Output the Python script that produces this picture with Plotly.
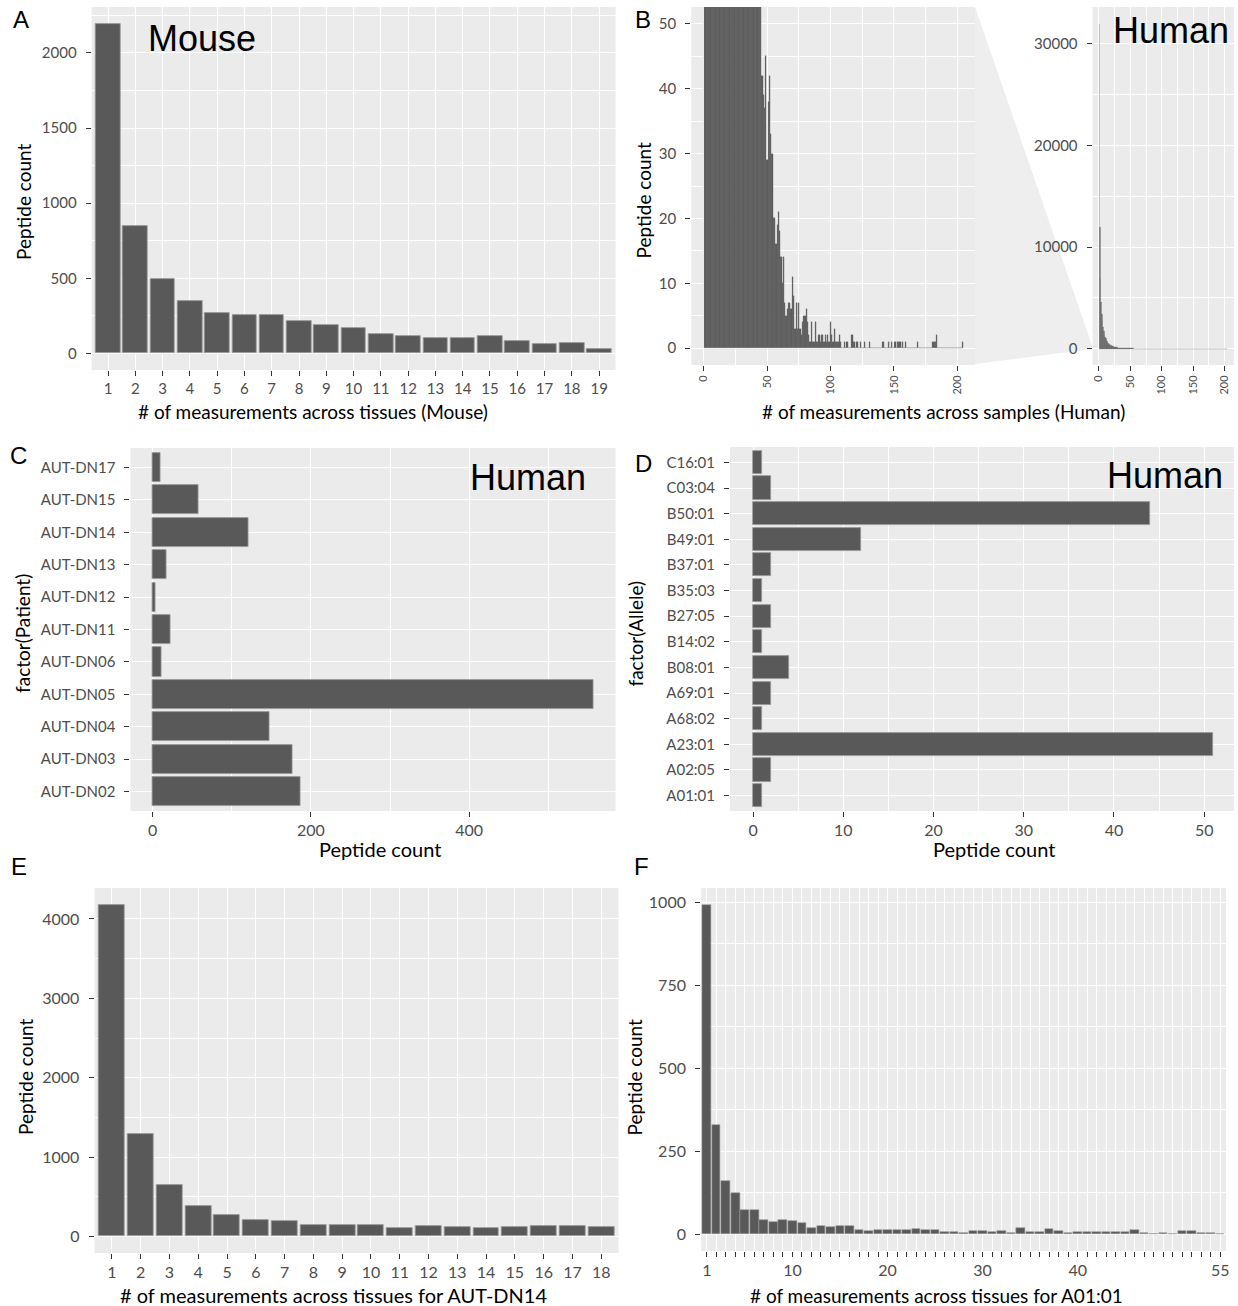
import plotly.graph_objects as go

W, H = 1238, 1306

# ---------------- data ----------------
mouse_x = [1, 2, 3, 4, 5, 6, 7, 8, 9, 10, 11, 12, 13, 14, 15, 16, 17, 18, 19]
mouse_counts = [2195, 848, 496, 350, 268, 259, 259, 217, 188, 168, 128, 117, 106, 100, 117, 80, 64, 69, 33]

human_head = [31900, 12000, 7000, 4600, 3400, 2700, 2150, 1750, 1450, 1200,
              1020, 880, 760, 660, 580, 510, 450, 400, 355, 315,
              285, 255, 230, 208, 188, 170, 155, 142, 130, 120,
              110, 101, 94, 87, 81, 76, 71, 67, 63, 60,
              58, 56, 55, 54, 53]
human_tail = [42, 39, 37, 45, 29, 38, 42, 33, 30, 20,
              20, 16, 19, 21, 18, 14, 10, 14, 7, 5,
              6, 7, 7, 6, 11, 8, 3, 7, 3, 7,
              3, 2, 4, 5, 5, 6, 4, 2, 1, 4,
              1, 1, 4, 1, 1, 2, 1, 2, 2, 1,
              2, 1, 2, 1, 4, 2, 1, 3, 1, 1,
              1, 2, 1, 0, 0, 1, 0, 1, 0, 0,
              0, 2, 1, 1, 0, 1, 0, 0, 1, 0,
              0, 1, 0, 0, 0, 1, 0, 0, 0, 0,
              0, 0, 0, 0, 0, 1, 1, 0, 0, 0,
              1, 0, 1, 0, 0, 1, 0, 1, 1, 1,
              0, 1, 0, 1, 0, 0, 0, 0, 0, 0,
              0, 0, 0, 1, 0, 0, 0, 0, 0, 0,
              0, 0, 0, 0, 0, 1, 1, 1, 2, 0,
              0, 0, 0, 0, 0, 0, 0, 0, 0, 0,
              0, 0, 0, 0, 0, 0, 0, 0, 1]
human_counts = human_head + human_tail
human_x = list(range(1, len(human_counts) + 1))
human_y_ticks = [0, 10000, 20000, 30000]

patients = ['AUT-DN02', 'AUT-DN03', 'AUT-DN04', 'AUT-DN05', 'AUT-DN06', 'AUT-DN11',
            'AUT-DN12', 'AUT-DN13', 'AUT-DN14', 'AUT-DN15', 'AUT-DN17']
patient_counts = [187, 177, 148, 557, 11, 22, 3, 18, 121, 58, 10]

alleles = ['A01:01', 'A02:05', 'A23:01', 'A68:02', 'A69:01', 'B08:01', 'B14:02',
           'B27:05', 'B35:03', 'B37:01', 'B49:01', 'B50:01', 'C03:04', 'C16:01']
allele_counts = [1, 2, 51, 1, 2, 4, 1, 2, 1, 2, 12, 44, 2, 1]

dn14_x = [1, 2, 3, 4, 5, 6, 7, 8, 9, 10, 11, 12, 13, 14, 15, 16, 17, 18]
dn14_counts = [4181, 1288, 644, 383, 274, 206, 198, 139, 139, 147, 109, 126, 114, 105, 122, 126, 131, 118]

a0101_x = list(range(1, 56))
a0101_counts = [992, 330, 160, 125, 73, 72, 43, 37, 44, 40,
                33, 20, 24, 21, 24, 24, 12, 9, 14, 12,
                12, 13, 16, 13, 12, 8, 8, 4, 10, 10,
                8, 11, 5, 18, 8, 8, 16, 10, 5, 7,
                7, 7, 7, 8, 8, 14, 5, 2, 5, 2,
                9, 10, 4, 4, 1]
a0101_labels = ['1', '10', '20', '30', '40', '55']

# ---------------- helpers ----------------
def dx(x0, x1):
    return [x0 / W, x1 / W]

def dy(y0, y1):
    return [1 - y1 / H, 1 - y0 / H]

BAR = '#595959'
EDGE = '#9a9a9a'

def axis(domain, rng, anchor, tickvals=None, ticktext=None, minor_vals=None, size=15, **kw):
    d = dict(domain=domain, range=rng, anchor=anchor, showline=False, zeroline=False,
             ticks='outside', ticklen=5, tickwidth=1.4, tickcolor='#333333',
             tickfont=dict(family='Lato', size=size, color='#4D4D4D'),
             showgrid=True, gridcolor='white', gridwidth=1.4, fixedrange=True)
    if tickvals is not None:
        d['tickmode'] = 'array'
        d['tickvals'] = tickvals
        d['ticktext'] = ticktext if ticktext is not None else [str(v) for v in tickvals]
    if minor_vals is not None:
        d['minor'] = dict(tickmode='array', tickvals=minor_vals, showgrid=True,
                          gridcolor='white', gridwidth=0.6, ticks='')
    d.update(kw)
    return d

fig = go.Figure()

# A: mouse
fig.add_trace(go.Bar(x=mouse_x, y=mouse_counts, width=0.9, xaxis='x', yaxis='y',
                     marker=dict(color=BAR, line=dict(color=EDGE, width=0.8)), showlegend=False))
# B: human zoomed
fig.add_trace(go.Bar(x=human_x, y=human_counts, width=1.0, xaxis='x2', yaxis='y2',
                     marker=dict(color=BAR, line=dict(color='#6f6f6f', width=0.3)), showlegend=False))
# B inset
fig.add_trace(go.Bar(x=human_x, y=human_counts, width=1.0, xaxis='x3', yaxis='y3',
                     marker=dict(color=BAR, line=dict(color='#6f6f6f', width=0.2)), showlegend=False))
# C: patients
fig.add_trace(go.Bar(y=patients, x=patient_counts, orientation='h', width=0.9, xaxis='x4', yaxis='y4',
                     marker=dict(color=BAR, line=dict(color=EDGE, width=0.8)), showlegend=False))
# D: alleles
fig.add_trace(go.Bar(y=alleles, x=allele_counts, orientation='h', width=0.9, xaxis='x5', yaxis='y5',
                     marker=dict(color=BAR, line=dict(color=EDGE, width=0.8)), showlegend=False))
# E: AUT-DN14
fig.add_trace(go.Bar(x=dn14_x, y=dn14_counts, width=0.9, xaxis='x6', yaxis='y6',
                     marker=dict(color=BAR, line=dict(color=EDGE, width=0.8)), showlegend=False))
# F: A01:01
fig.add_trace(go.Bar(x=a0101_x, y=a0101_counts, width=0.9, xaxis='x7', yaxis='y7',
                     marker=dict(color=BAR, line=dict(color=EDGE, width=0.6)), showlegend=False))

f_ticktext = [str(v) if str(v) in a0101_labels else '' for v in a0101_x]
YS = 6  # y tick label standoff

layout = dict(
    width=W, height=H, margin=dict(l=0, r=0, t=0, b=0),
    paper_bgcolor='white', plot_bgcolor='#EBEBEB', bargap=0, barmode='overlay',
    font=dict(family='Lato', color='black'),
    # A
    xaxis=axis(dx(91, 617), [0.4, 19.6], 'y', tickvals=mouse_x),
    yaxis=axis(dy(7, 370), [-110, 2305], 'x', tickvals=[0, 500, 1000, 1500, 2000],
               minor_vals=[250, 750, 1250, 1750, 2250], ticklabelstandoff=YS),
    # B left
    xaxis2=axis(dx(693, 978), [-10, 214], 'y2', tickvals=[0, 50, 100, 150, 200],
                minor_vals=[25, 75, 125, 175], tickangle=-90, size=11),
    yaxis2=axis(dy(7, 365), [-2.6, 52.6], 'x2', tickvals=[0, 10, 20, 30, 40, 50],
                minor_vals=[5, 15, 25, 35, 45], ticklabelstandoff=YS),
    # B inset
    xaxis3=axis(dx(1096, 1238), [-10, 215], 'y3', tickvals=[0, 50, 100, 150, 200],
                minor_vals=[25, 75, 125, 175], tickangle=-90, size=11),
    yaxis3=axis(dy(7, 365), [-1600, 33600], 'x3', tickvals=human_y_ticks,
                minor_vals=[5000, 15000, 25000], ticklabelstandoff=YS),
    # C
    xaxis4=axis(dx(130, 617), [-28, 585], 'y4', tickvals=[0, 200, 400],
                minor_vals=[100, 300, 500], size=16),
    yaxis4=axis(dy(448, 811), [-0.6, len(patients) - 0.4], 'x4', type='category',
                categoryorder='array', categoryarray=patients, ticklabelstandoff=YS),
    # D
    xaxis5=axis(dx(732, 1238), [-2.55, 53.3], 'y5', tickvals=[0, 10, 20, 30, 40, 50],
                minor_vals=[5, 15, 25, 35, 45], size=16),
    yaxis5=axis(dy(447, 811), [-0.6, len(alleles) - 0.4], 'x5', type='category',
                categoryorder='array', categoryarray=alleles, ticklabelstandoff=YS),
    # E
    xaxis6=axis(dx(94, 620), [0.4, 18.6], 'y6', tickvals=dn14_x, size=16),
    yaxis6=axis(dy(888, 1253), [-209, 4390], 'x6', tickvals=[0, 1000, 2000, 3000, 4000],
                minor_vals=[500, 1500, 2500, 3500], size=16, ticklabelstandoff=YS),
    # F
    xaxis7=axis(dx(703, 1230), [0.4, 55.6], 'y7', tickvals=a0101_x, ticktext=f_ticktext, size=16),
    yaxis7=axis(dy(888, 1251), [-50, 1043], 'x7', tickvals=[0, 250, 500, 750, 1000],
                minor_vals=[125, 375, 625, 875], size=16, ticklabelstandoff=YS),
)
fig.update_layout(**layout)

# zoom connector in panel B
def px(x, y):
    return x / W, 1 - y / H

pts = [px(978, 7), px(1096, 347), px(1096, 349), px(978, 364)]
path = 'M ' + ' L '.join(f'{a},{b}' for a, b in pts) + ' Z'
fig.add_shape(type='path', path=path, xref='paper', yref='paper',
              fillcolor='#EEEEEE', line=dict(width=0), layer='below')

def ann(text, x, y, size=19, family='Lato', angle=0, color='black'):
    ax, ay = px(x, y)
    fig.add_annotation(text=text, x=ax, y=ay, xref='paper', yref='paper', showarrow=False,
                       xanchor='center', yanchor='middle', textangle=angle,
                       font=dict(family=family, size=size, color=color))

# axis titles
ann('# of measurements across tissues (Mouse)', 313, 411)
ann('Peptide count', 22, 202, angle=-90)
ann('# of measurements across samples (Human)', 946, 411)
ann('Peptide count', 646, 200, angle=-90)
ann('Peptide count', 381, 849, size=20)
ann('factor(Patient)', 22, 633, angle=-90)
ann('Peptide count', 997, 849, size=20)
ann('factor(Allele)', 638, 633, angle=-90)
ann('# of measurements across tissues for AUT-DN14', 334, 1295, size=20)
ann('Peptide count', 24, 1077, angle=-90)
ann('# of measurements across tissues for A01:01', 939, 1295)
ann('Peptide count', 636, 1077, angle=-90)

# species labels
SP = 'Liberation Sans'
ann('Mouse', 202, 38, size=36, family=SP)
ann('Human', 1175, 30, size=36, family=SP)
ann('Human', 529, 478, size=36, family=SP)
ann('Human', 1169, 475, size=36, family=SP)

# panel letters
for letter, x, y in [('A', 20, 19), ('B', 645, 19), ('C', 18, 456), ('D', 645, 463),
                     ('E', 18, 866), ('F', 643, 866)]:
    ann(letter, x, y, size=24, family=SP)

fig.write_html('out.html', config={'displayModeBar': False},
               post_script="document.body.style.margin='0';document.body.style.padding='0';")
